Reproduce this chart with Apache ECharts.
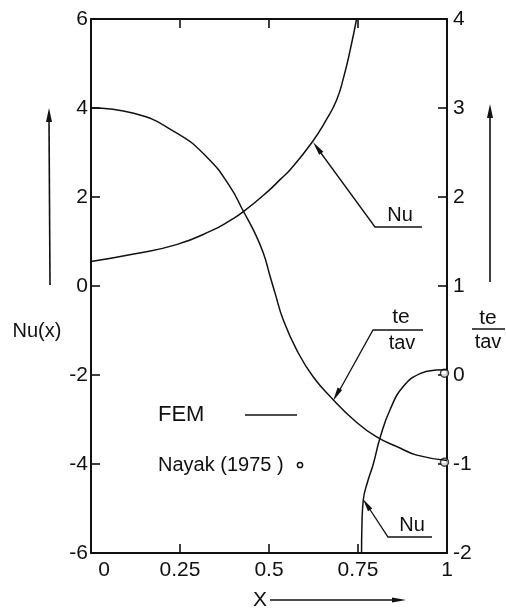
<!DOCTYPE html>
<html>
<head>
<meta charset="utf-8">
<script src="https://cdn.jsdelivr.net/npm/echarts@6/dist/echarts.min.js"></script>
<style>html,body{margin:0;padding:0;background:#fff}#c{width:506px;height:612px}</style>
</head>
<body>
<div id="c"></div>
<script>
// ---- data ----
// Upper Nu branch (left axis, Nu(x))
const nuUpper = [[0,0.55],[0.12,0.72],[0.24,0.93],[0.34,1.25],[0.39,1.47],[0.428,1.67],[0.50,2.15],[0.531,2.39],[0.56,2.62],[0.62,3.22],[0.66,3.72],[0.69,4.18],[0.71,4.7],[0.728,5.3],[0.746,6.0]];
// Lower Nu branch (left axis)
const nuLower = [[0.760,-6.0],[0.761,-5.4],[0.765,-4.8],[0.777,-4.4],[0.793,-4.0],[0.812,-3.41],[0.84,-2.78],[0.877,-2.26],[0.924,-1.97],[0.97,-1.89],[1.0,-1.88]];
// te/tav (right axis)
const teTav = [[0,3.0],[0.12,2.94],[0.24,2.72],[0.325,2.45],[0.39,2.12],[0.428,1.84],[0.456,1.63],[0.484,1.37],[0.503,1.11],[0.517,0.92],[0.54,0.62],[0.578,0.28],[0.624,-0.02],[0.681,-0.28],[0.737,-0.50],[0.80,-0.69],[0.868,-0.82],[0.915,-0.90],[1.0,-0.96]];
// Nayak (1975) reference points (right axis)
const nayak = [[0.993,0.02],[0.993,-0.98]];
// axis ticks
const xTicks = {min:0, max:1, interval:0.25};
const yLeftTicks = {min:-6, max:6, interval:2};
const yRightTicks = {min:-2, max:4, interval:1};

const FONT = '"Liberation Sans", Arial, sans-serif';
const INK = '#111';
const chart = echarts.init(document.getElementById('c'), null, {renderer:'canvas'});

function head(tx, ty, fx, fy, len, half){
  const dx=tx-fx, dy=ty-fy, d=Math.hypot(dx,dy), ux=dx/d, uy=dy/d;
  const bx=tx-ux*len, by=ty-uy*len;
  return [[tx,ty],[bx-uy*half,by+ux*half],[bx+uy*half,by-ux*half]];
}
function poly(points, w){ return {type:'polyline', shape:{points}, style:{stroke:INK, lineWidth:w||1.3, fill:null}}; }
function tri(points){ return {type:'polygon', shape:{points}, style:{fill:INK}}; }
function txt(t, x, y, size, align){ return {type:'text', style:{text:t, x, y, font:size+'px '+FONT, fill:INK, align:align||'center', verticalAlign:'middle'}}; }

const axisCommon = {
  axisLine:{show:true, onZero:false, lineStyle:{color:INK, width:2}},
  axisTick:{show:true, inside:true, length:9, lineStyle:{color:INK, width:1.6}},
  splitLine:{show:false},
  axisLabel:{color:INK, fontFamily:FONT, fontSize:21}
};

const lineStyle = {color:INK, width:1.5};
const option = {
  animation:false,
  backgroundColor:'#fff',
  grid:{left:91, right:59, top:19, bottom:59},
  xAxis:[
    Object.assign({}, axisCommon, {type:'value', position:'bottom', min:xTicks.min, max:xTicks.max, interval:xTicks.interval,
      axisLabel:Object.assign({}, axisCommon.axisLabel, {margin:7,
        formatter:v => v===0 ? '{z|0}' : String(v),
        rich:{z:{padding:[0,0,0,26], fontSize:21, fontFamily:FONT, color:INK}}})}),
    Object.assign({}, axisCommon, {type:'value', position:'top', min:xTicks.min, max:xTicks.max, interval:xTicks.interval,
      axisLabel:{show:false}})
  ],
  yAxis:[
    Object.assign({}, axisCommon, {type:'value', position:'left', min:yLeftTicks.min, max:yLeftTicks.max, interval:yLeftTicks.interval,
      axisLabel:Object.assign({}, axisCommon.axisLabel, {margin:3})}),
    Object.assign({}, axisCommon, {type:'value', position:'right', min:yRightTicks.min, max:yRightTicks.max, interval:yRightTicks.interval,
      axisLabel:Object.assign({}, axisCommon.axisLabel, {margin:6})})
  ],
  series:[
    {type:'line', name:'Nu', data:nuUpper, xAxisIndex:0, yAxisIndex:0, smooth:0.5, symbol:'none', clip:true, lineStyle},
    {type:'line', name:'Nu', data:nuLower, xAxisIndex:0, yAxisIndex:0, smooth:0.5, symbol:'none', clip:true, lineStyle},
    {type:'line', name:'te/tav', data:teTav, xAxisIndex:0, yAxisIndex:1, smooth:0.5, symbol:'none', clip:true, lineStyle},
    {type:'scatter', name:'Nayak (1975)', data:nayak, xAxisIndex:0, yAxisIndex:1, symbol:'circle', symbolSize:8,
      itemStyle:{color:'#fff', borderColor:INK, borderWidth:1.5}, z:1}
  ],
  graphic:[
    // left axis title
    txt('Nu(x)', 37, 331, 20),
    poly([[50,285],[49,118]], 1.6), tri(head(49,108,49,285,14,3)),
    // right axis title (fraction)
    txt('te', 488, 318, 21), poly([[472,329],[505,329]], 1.5), txt('tav', 488, 342, 20),
    poly([[490,282],[490,115]], 1.6), tri(head(490,104,490,282,14,3)),
    // x axis title
    txt('X', 260, 600, 21), poly([[270,600],[394,600]], 1.5), tri(head(406,600,270,600,14,2.6)),
    // annotation: upper Nu
    poly([[422,227],[375,227],[318,149]], 1.3), tri(head(313,142,375,227,14,2.6)), txt('Nu', 400, 215, 20),
    // annotation: te/tav
    poly([[423,330],[373,330],[338,393]], 1.3), tri(head(333,401,373,330,14,2.6)),
    txt('te', 401, 317, 21), txt('tav', 402, 343, 20),
    // annotation: lower Nu
    poly([[432,537],[388,537],[367,505]], 1.3), tri(head(363,499,388,537,13,2.6)), txt('Nu', 412, 525, 20),
    // legend
    txt('FEM', 158, 415, 22, 'left'), poly([[245,415],[297,415]], 1.6),
    txt('Nayak (1975 )', 158, 465, 20, 'left'),
    {type:'circle', shape:{cx:300, cy:465, r:2.6}, style:{fill:'#fff', stroke:INK, lineWidth:1.5}}
  ]
};
chart.setOption(option);
</script>
</body>
</html>
